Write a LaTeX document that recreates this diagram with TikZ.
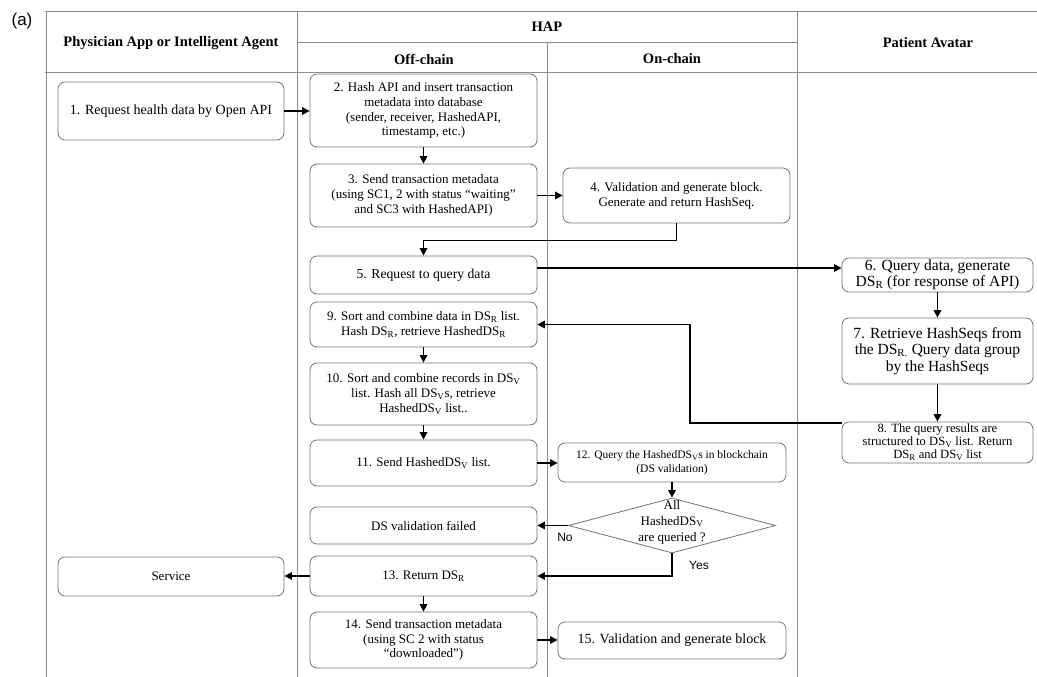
\documentclass[tikz,border=0pt]{standalone}
\usepackage{fontspec}
\setmainfont{Liberation Serif}
\newfontfamily\sansf{Liberation Sans}
\usetikzlibrary{arrows.meta,shapes.geometric}
\newcommand{\sbs}[1]{\textsubscript{#1}}
\begin{document}
\begin{tikzpicture}[x=1pt,y=-1pt,
 grid/.style={draw=black!45, line width=1pt},
 box/.style={draw=black!55, line width=0.8pt, rounded corners=7pt, align=center, inner sep=1pt, font=\fontsize{13}{14.8}\selectfont},
 arr/.style={draw=black, line width=1.5pt, -{Triangle[length=7.5pt,width=7.5pt]}},
 hdr/.style={font=\bfseries\fontsize{14.5}{16}\selectfont, inner sep=0pt},
 lbl/.style={font=\sansf\fontsize{12}{13}\selectfont, inner sep=0pt},
 ]
\useasboundingbox (0,0) rectangle (1037,677);
% frame
\draw[grid] (45,12) -- (1037,12);
\draw[grid] (45,72.5) -- (1037,72.5);
\draw[grid] (297,42.5) -- (797,42.5);
\draw[grid] (46,12) -- (46,677);
\draw[grid] (297,12) -- (297,677);
\draw[grid] (547,42.5) -- (547,677);
\draw[grid] (797,12) -- (797,677);
% headers
\node[font=\sansf\fontsize{17}{18}\selectfont, inner sep=0pt] (lab) at (22,21) {(a)};
\node[hdr] (h1) at (171,43) {Physician App or Intelligent Agent};
\node[hdr] (h2) at (547,27) {HAP};
\node[hdr] (h3) at (424,59) {Off-chain};
\node[hdr] (h4) at (672,59) {On-chain};
\node[hdr] (h5) at (928,43) {Patient Avatar};
% boxes
\node[box, minimum width=226pt, minimum height=58pt, font=\fontsize{14}{16}\selectfont] (b1) at (171,111) {1. Request health data by Open API};
\node[box, minimum width=227pt, minimum height=73pt] (b2) at (423.5,110.5) {2. Hash API and insert transaction\\metadata into database\\(sender, receiver, HashedAPI,\\timestamp, etc.)};
\node[box, minimum width=227pt, minimum height=63pt] (b3) at (423.5,195.5) {3. Send transaction metadata\\(using SC1, 2 with status “waiting”\\and SC3 with HashedAPI)};
\node[box, minimum width=227pt, minimum height=55pt] (b4) at (676.5,195.5) {4. Validation and generate block.\\Generate and return HashSeq.};
\node[box, minimum width=227pt, minimum height=38pt, font=\fontsize{13.7}{15}\selectfont] (b5) at (423.5,275) {5. Request to query data};
\node[box, minimum width=191pt, minimum height=34pt, font=\fontsize{15.5}{15.5}\selectfont] (b6) at (937.5,275) {6. Query data, generate\\DS\sbs{R} (for response of API)};
\node[box, minimum width=191pt, minimum height=66pt, font=\fontsize{15.5}{16.5}\selectfont] (b7) at (937.5,351) {7. Retrieve HashSeqs from\\the DS\sbs{R.} Query data group\\by the HashSeqs};
\node[box, minimum width=191pt, minimum height=41pt, font=\fontsize{12.6}{13}\selectfont] (b8) at (937.5,442.5) {8. The query results are\\structured to DS\sbs{V} list. Return\\DS\sbs{R} and DS\sbs{V} list};
\node[box, minimum width=227pt, minimum height=45pt] (b9) at (423.5,324.5) {9. Sort and combine data in DS\sbs{R} list.\\Hash DS\sbs{R}, retrieve HashedDS\sbs{R}};
\node[box, minimum width=227pt, minimum height=62pt] (b10) at (423.5,394) {10. Sort and combine records in DS\sbs{V}\\list. Hash all DS\sbs{V}s, retrieve\\HashedDS\sbs{V} list..};
\node[box, minimum width=227pt, minimum height=46pt] (b11) at (423.5,463) {11. Send HashedDS\sbs{V} list.};
\node[box, minimum width=228pt, minimum height=39pt, font=\fontsize{11.5}{13.5}\selectfont] (b12) at (672,462.5) {12. Query the HashedDS\sbs{V}s in blockchain\\(DS validation)};
\node[draw=black!55, line width=0.8pt, diamond, minimum width=207pt, minimum height=55pt, inner sep=0pt] (dia) at (672,525.5) {};
\node[align=center, inner sep=0pt, font=\fontsize{13}{16}\selectfont] (diat) at (672,522) {All\\HashedDS\sbs{V}\\are queried ?};
\node[box, minimum width=227pt, minimum height=37pt] (fail) at (423.5,525.5) {DS validation failed};
\node[box, minimum width=227pt, minimum height=40pt] (b13) at (423.5,576) {13. Return DS\sbs{R}};
\node[box, minimum width=226pt, minimum height=39pt] (serv) at (171,576.5) {Service};
\node[box, minimum width=227pt, minimum height=56pt] (b14) at (423.5,640) {14. Send transaction metadata\\(using SC 2 with status\\“downloaded”)};
\node[box, minimum width=228pt, minimum height=37pt, font=\fontsize{14}{15}\selectfont] (b15) at (672,640.5) {15. Validation and generate block};
% connectors
\draw[arr] (b1.east) -- (b1.east -| b2.west);
\draw[arr] (b2.south) -- (b3.north);
\draw[arr] (b3.east) -- (b3.east -| b4.west);
\draw[arr] (b4.south) -- ++(0,17) -| (b5.north);
\draw[arr] ([yshift=7pt]b5.east) -- ([yshift=7pt]b5.east -| b6.west);
\draw[arr] (b6.south) -- (b7.north);
\draw[arr] (b7.south) -- (b8.north);
\coordinate (c89) at (690,0);
\draw[arr] ([yshift=-1.5pt]b8.north west) -- ([yshift=-1.5pt]b8.north west -| c89) |- (b9.east);
\draw[arr] (b9.south) -- (b10.north);
\draw[arr] (b10.south) -- (b11.north);
\draw[arr] (b11.east) -- (b11.east -| b12.west);
\draw[arr] (b12.south) -- (dia.north);
\draw[arr] (dia.west) -- (dia.west -| fail.east);
\draw[arr] (dia.south) |- (b13.east);
\draw[arr] (b13.west) -- (b13.west -| serv.east);
\draw[arr] (b13.south) -- (b14.north);
\draw[arr] (b14.east) -- (b14.east -| b15.west);
% labels
\node[lbl] (no) at (565,537) {No};
\node[lbl] (yes) at (699,565) {Yes};
\end{tikzpicture}
\end{document}
